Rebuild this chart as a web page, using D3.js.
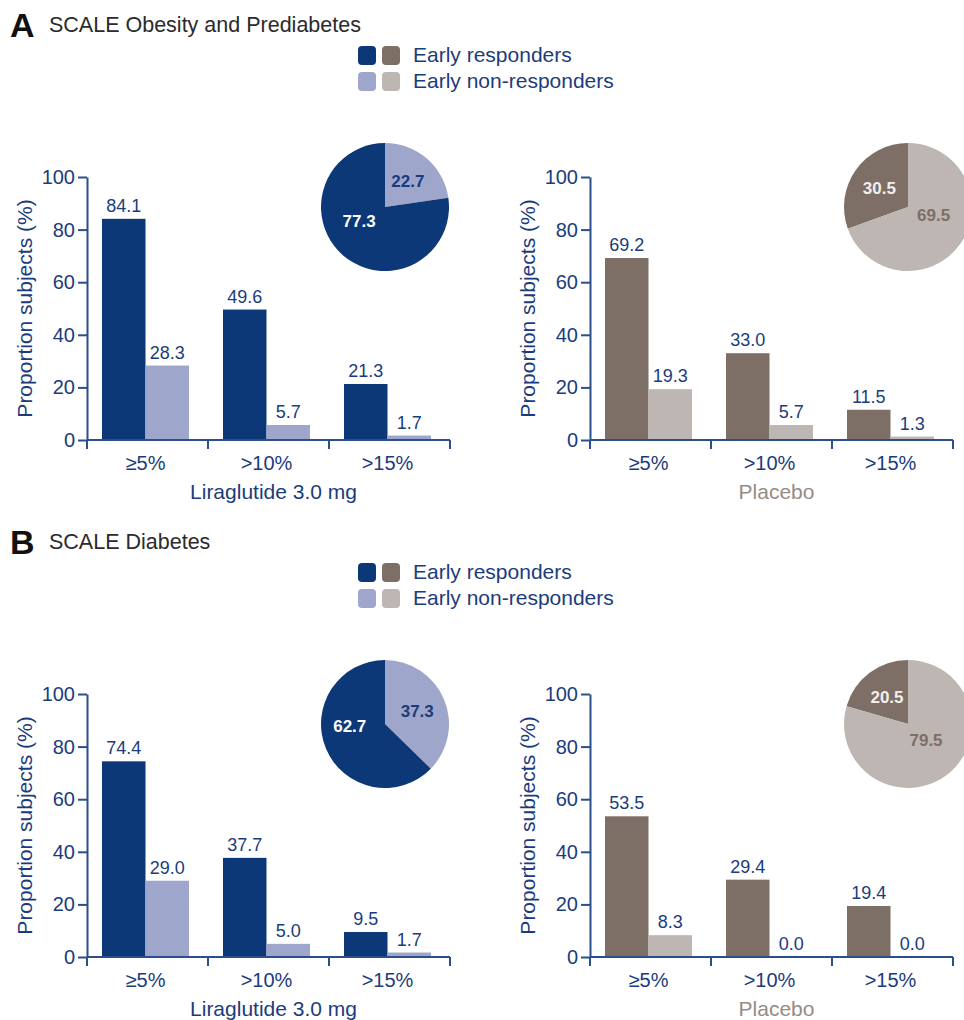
<!DOCTYPE html>
<html>
<head>
<meta charset="utf-8">
<script src="https://cdn.jsdelivr.net/npm/d3@7"></script>
<style>
  body { margin: 0; background: #fff; }
  text { font-family: "Liberation Sans", Arial, sans-serif; }
</style>
</head>
<body>
<div id="chart"></div>
<script>
// data
var categories = ["≥5%", ">10%", ">15%"];
var series = ["Early responders", "Early non-responders"];

var liraObesityResp = [84.1, 49.6, 21.3];
var liraObesityNon = [28.3, 5.7, 1.7];
var liraObesityPie = [77.3, 22.7];

var placeboObesityResp = [69.2, 33.0, 11.5];
var placeboObesityNon = [19.3, 5.7, 1.3];
var placeboObesityPie = [30.5, 69.5];

var liraDiabetesResp = [74.4, 37.7, 9.5];
var liraDiabetesNon = [29.0, 5.0, 1.7];
var liraDiabetesPie = [62.7, 37.3];

var placeboDiabetesResp = [53.5, 29.4, 19.4];
var placeboDiabetesNon = [8.3, 0.0, 0.0];
var placeboDiabetesPie = [20.5, 79.5];

var yTicks = [0, 20, 40, 60, 80, 100];

var navy = "#0c3878";
var lav = "#9ea6cc";
var brown = "#7d6e66";
var grey = "#bdb6b2";
var inkBlue = "#1b3c7c";
var axisBlue = "#2a4f8c";

var svg = d3.select("#chart")
  .append("svg")
  .attr("width", 964)
  .attr("height", 1020);

var panels = [
  { y: 0, letter: "A", title: "SCALE Obesity and Prediabetes",
    charts: [
      { x: 87, resp: liraObesityResp, non: liraObesityNon, pie: liraObesityPie, colors: [navy, lav],
        label: "Liraglutide 3.0 mg", labelColor: inkBlue, pieX: 298, placebo: false },
      { x: 590, resp: placeboObesityResp, non: placeboObesityNon, pie: placeboObesityPie, colors: [brown, grey],
        label: "Placebo", labelColor: "#968b85", pieX: 318, placebo: true }
    ] },
  { y: 517, letter: "B", title: "SCALE Diabetes",
    charts: [
      { x: 87, resp: liraDiabetesResp, non: liraDiabetesNon, pie: liraDiabetesPie, colors: [navy, lav],
        label: "Liraglutide 3.0 mg", labelColor: inkBlue, pieX: 298, placebo: false },
      { x: 590, resp: placeboDiabetesResp, non: placeboDiabetesNon, pie: placeboDiabetesPie, colors: [brown, grey],
        label: "Placebo", labelColor: "#968b85", pieX: 318, placebo: true }
    ] }
];

var chartW = 363, chartH = 263, chartTop = 177;

panels.forEach(function(p) {
  var g = svg.append("g").attr("transform", `translate(0, ${p.y})`);

  // panel letter + title
  g.append("text").attr("x", 10).attr("y", 37)
    .attr("font-size", 34).attr("font-weight", "bold").attr("fill", "#111")
    .text(p.letter);
  g.append("text").attr("x", 49).attr("y", 32)
    .attr("font-size", 21.5).attr("fill", "#2b2b2b")
    .text(p.title);

  // legend
  var legendRows = [[navy, brown], [lav, grey]];
  legendRows.forEach(function(cols, i) {
    cols.forEach(function(col, j) {
      g.append("rect")
        .attr("x", 358 + j * 24).attr("y", 46 + i * 26)
        .attr("width", 18).attr("height", 19)
        .attr("rx", 4).attr("fill", col);
    });
    g.append("text").attr("x", 413).attr("y", 55 + i * 26).attr("dy", "0.35em")
      .attr("font-size", 21).attr("fill", inkBlue)
      .text(series[i]);
  });

  p.charts.forEach(function(c) {
    var cg = g.append("g").attr("transform", `translate(${c.x}, ${chartTop})`);

    var x0 = d3.scaleBand().domain(categories).range([0, chartW]);
    var bw = x0.bandwidth();
    var x1 = d3.scaleBand().domain(series).range([bw * 15 / 121, bw * 102 / 121]);
    var y = d3.scaleLinear().domain([0, 100]).range([chartH, 0]);

    var rows = categories.map(function(cat, i) {
      return { cat: cat, vals: [c.resp[i], c.non[i]] };
    });

    // bars
    var groups = cg.selectAll(".grp")
      .data(rows)
      .enter()
      .append("g")
      .attr("transform", d => `translate(${x0(d.cat)}, 0)`);

    groups.selectAll("rect")
      .data(d => d.vals.map((v, k) => ({ s: series[k], v: v, k: k })))
      .enter()
      .append("rect")
      .attr("x", d => x1(d.s))
      .attr("y", d => y(d.v))
      .attr("width", x1.bandwidth())
      .attr("height", d => chartH - y(d.v))
      .attr("fill", d => c.colors[d.k]);

    groups.selectAll("text")
      .data(d => d.vals.map((v, k) => ({ s: series[k], v: v, k: k })))
      .enter()
      .append("text")
      .attr("x", d => x1(d.s) + x1.bandwidth() / 2)
      .attr("y", d => y(d.v) - 7)
      .attr("text-anchor", "middle")
      .attr("font-size", 18)
      .attr("fill", inkBlue)
      .text(d => d.v.toFixed(1));

    // y axis
    var leftAxis = d3.axisLeft(y).tickValues(yTicks).tickSize(9).tickPadding(3).tickSizeOuter(0);
    var ya = cg.append("g").call(leftAxis);
    ya.select(".domain").attr("stroke", axisBlue).attr("stroke-width", 2);
    ya.selectAll(".tick line").attr("stroke", axisBlue).attr("stroke-width", 2);
    ya.selectAll(".tick text").attr("font-size", 20).attr("fill", inkBlue)
      .attr("font-family", "Liberation Sans, Arial, sans-serif");

    // x axis: line with ticks at band edges, labels at band centres
    var xa = cg.append("g").attr("transform", `translate(0, ${chartH})`);
    xa.append("line").attr("x1", 0).attr("x2", chartW)
      .attr("stroke", axisBlue).attr("stroke-width", 2);
    var edges = categories.map(d => x0(d)).concat([chartW]);
    xa.selectAll(".edge")
      .data(edges)
      .enter()
      .append("line")
      .attr("x1", d => d).attr("x2", d => d)
      .attr("y1", 0).attr("y2", 9)
      .attr("stroke", axisBlue).attr("stroke-width", 2);
    xa.selectAll(".cat")
      .data(categories)
      .enter()
      .append("text")
      .attr("x", d => x0(d) + bw / 2 - 2)
      .attr("y", 23).attr("dy", "0.35em")
      .attr("text-anchor", "middle")
      .attr("font-size", 20).attr("fill", inkBlue)
      .text(d => d);

    // axis titles
    cg.append("text")
      .attr("transform", "rotate(-90)")
      .attr("x", -chartH / 2)
      .attr("y", -62)
      .attr("dy", "0.35em")
      .attr("text-anchor", "middle")
      .attr("font-size", 21).attr("fill", inkBlue)
      .text("Proportion subjects (%)");
    cg.append("text")
      .attr("x", chartW / 2 + 5)
      .attr("y", chartH + 52).attr("dy", "0.35em")
      .attr("text-anchor", "middle")
      .attr("font-size", 21).attr("fill", c.labelColor)
      .text(c.label);

    // pie
    var r = 64;
    var pg = cg.append("g").attr("transform", `translate(${c.pieX}, 30)`);
    var pieData, pieColors, labelColors, start;
    if (c.placebo) {
      pieData = [c.pie[0], c.pie[1]];
      pieColors = [brown, grey];
      labelColors = ["#f2efec", brown];
      start = -c.pie[0] / 100 * 2 * Math.PI;
    } else {
      pieData = [c.pie[1], c.pie[0]];
      pieColors = [lav, navy];
      labelColors = [inkBlue, "#ffffff"];
      start = 0;
    }
    var pie = d3.pie().sort(null).startAngle(start).endAngle(start + 2 * Math.PI);
    var arc = d3.arc().innerRadius(0).outerRadius(r);
    var labelArc = d3.arc().innerRadius(70).outerRadius(0);
    var slices = pie(pieData);
    pg.selectAll("path")
      .data(slices)
      .enter()
      .append("path")
      .attr("d", arc)
      .attr("fill", (d, i) => pieColors[i]);
    pg.selectAll("text")
      .data(slices)
      .enter()
      .append("text")
      .attr("transform", function(d) {
        var cpos = labelArc.centroid(d);
        // big slices: label sits nearer the middle of the pie
        if (d.data > 50) { cpos[0] -= 3; cpos[1] -= 13; }
        return `translate(${cpos[0]}, ${cpos[1] + 1})`;
      })
      .attr("dy", "0.35em")
      .attr("text-anchor", "middle")
      .attr("font-size", 17).attr("font-weight", "bold")
      .attr("fill", (d, i) => labelColors[i])
      .text(d => d.data.toFixed(1));
  });
});
</script>
</body>
</html>
